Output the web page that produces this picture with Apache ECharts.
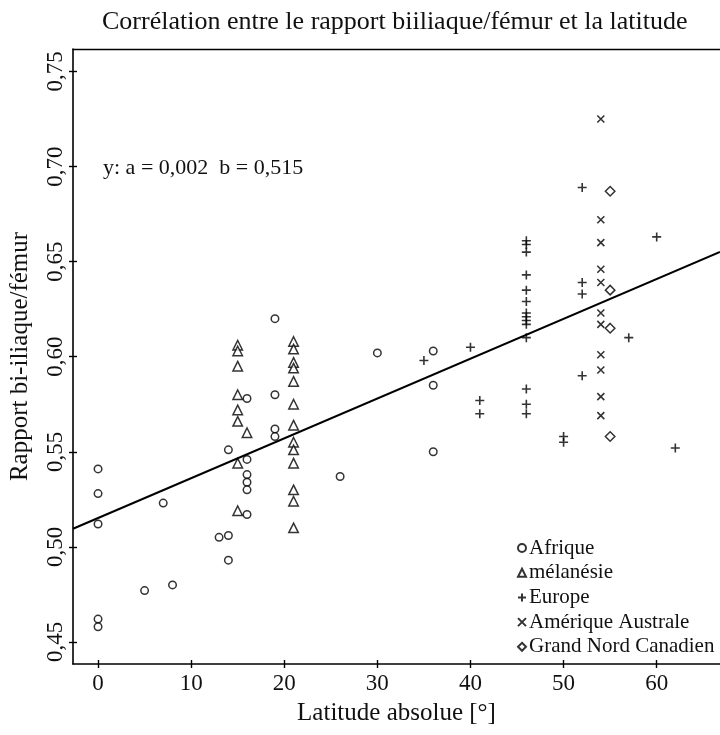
<!DOCTYPE html>
<html>
<head>
<meta charset="utf-8">
<script src="https://cdn.jsdelivr.net/npm/echarts@6/dist/echarts.min.js"></script>
<style>
html,body{margin:0;padding:0;background:#fff;}
#main{width:720px;height:735px;}
</style>
</head>
<body>
<div id="main"></div>
<script>
// tick labels
var xTicks = [0, 10, 20, 30, 40, 50, 60];
var yTicks = [0.45, 0.50, 0.55, 0.60, 0.65, 0.70, 0.75];

// Afrique
var afriqueX = [0, 0, 0, 0, 0, 5, 7, 8, 13, 14, 14, 14, 16, 16, 16, 16, 16, 16, 19, 19, 19, 19, 26, 30, 36, 36, 36];
var afriqueY = [0.541, 0.528, 0.512, 0.462, 0.458, 0.477, 0.523, 0.480, 0.505, 0.506, 0.493, 0.551, 0.578, 0.546, 0.538, 0.534, 0.530, 0.517, 0.620, 0.580, 0.562, 0.558, 0.537, 0.602, 0.603, 0.585, 0.550];

// mélanésie
var melanesieX = [15, 15, 15, 15, 15, 15, 15, 15, 16, 21, 21, 21, 21, 21, 21, 21, 21, 21, 21, 21, 21, 21];
var melanesieY = [0.606, 0.603, 0.595, 0.580, 0.572, 0.566, 0.544, 0.519, 0.560, 0.608, 0.604, 0.597, 0.594, 0.587, 0.575, 0.564, 0.555, 0.551, 0.544, 0.530, 0.524, 0.510];

// Europe
var europeX = [35, 40, 41, 41, 46, 46, 46, 46, 46, 46, 46, 46, 46, 46, 46, 46, 46, 46, 50, 50, 52, 52, 52, 52, 57, 60, 62];
var europeY = [0.598, 0.605, 0.577, 0.570, 0.661, 0.659, 0.655, 0.643, 0.635, 0.629, 0.623, 0.621, 0.619, 0.617, 0.610, 0.583, 0.575, 0.570, 0.558, 0.555, 0.689, 0.639, 0.633, 0.590, 0.610, 0.663, 0.552];

// Amérique Australe
var ameriqueX = [54, 54, 54, 54, 54, 54, 54, 54, 54, 54, 54];
var ameriqueY = [0.725, 0.672, 0.660, 0.646, 0.639, 0.623, 0.617, 0.601, 0.593, 0.579, 0.569];

// Grand Nord Canadien
var canadaX = [55, 55, 55, 55];
var canadaY = [0.687, 0.635, 0.615, 0.558];

// droite de régression (extrémités)
var droiteX = [-2.69, 66.8];
var droiteY = [0.5095, 0.6551];

function pts(xs, ys) {
	var out = [];
	for (var i = 0; i < xs.length; i++) out.push([xs[i], ys[i]]);
	return out;
}

var FONT = '"Liberation Serif", "DejaVu Serif", serif';
var INK = '#000';
var markStyle = {color: '#fff', borderColor: INK, borderWidth: 1.5};
var strokeStyle = {color: 'transparent', borderColor: INK, borderWidth: 1.6};

var xMin = -2.69, xMax = 66.8, yMin = 0.4384, yMax = 0.7618;

var option = {
	animation: false,
	backgroundColor: '#fff',
	textStyle: {fontFamily: FONT, color: INK},
	title: {
		text: 'Corrélation entre le rapport biiliaque/fémur et la latitude',
		left: 97,
		top: 4,
		textStyle: {fontFamily: FONT, fontSize: 26, fontWeight: 'normal', color: '#111'}
	},
	grid: {left: 73, right: 0, top: 49, bottom: 71},
	legend: {
		orient: 'vertical',
		left: 512,
		top: 532,
		itemWidth: 8,
		itemHeight: 8,
		itemGap: 2.7,
		selectedMode: false,
		textStyle: {fontFamily: FONT, fontSize: 21, color: '#111', lineHeight: 22, padding: [0, 0, 0, -2]},
		data: ['Afrique', 'mélanésie', 'Europe', 'Amérique Australe', 'Grand Nord Canadien']
	},
	graphic: [{
		type: 'text',
		left: 103,
		top: 157,
		style: {text: 'y: a = 0,002  b = 0,515', font: '22px ' + FONT, fill: '#111'}
	}],
	xAxis: [{
		type: 'value', min: xMin, max: xMax, position: 'bottom',
		splitLine: {show: false},
		axisLine: {onZero: false, lineStyle: {color: INK, width: 1.6}},
		axisTick: {customValues: xTicks, length: 4, lineStyle: {color: INK, width: 1.4}},
		axisLabel: {customValues: xTicks, fontFamily: FONT, fontSize: 23, color: '#111', margin: 8},
		name: 'Latitude absolue [°]',
		nameLocation: 'middle',
		nameGap: 37,
		nameTextStyle: {fontFamily: FONT, fontSize: 25, color: '#111'}
	}, {
		type: 'value', min: xMin, max: xMax, position: 'bottom',
		splitLine: {show: false},
		axisLine: {show: false, onZero: false},
		axisTick: {customValues: xTicks, inside: true, length: 4, lineStyle: {color: INK, width: 1.4}},
		axisLabel: {show: false}
	}, {
		type: 'value', min: xMin, max: xMax, position: 'top',
		splitLine: {show: false},
		axisLine: {onZero: false, lineStyle: {color: INK, width: 1.3}},
		axisTick: {show: false},
		axisLabel: {show: false}
	}],
	yAxis: [{
		type: 'value', min: yMin, max: yMax, position: 'left',
		splitLine: {show: false},
		axisLine: {onZero: false, lineStyle: {color: INK, width: 1.6}},
		axisTick: {customValues: yTicks, length: 4, lineStyle: {color: INK, width: 1.4}},
		axisLabel: {
			customValues: yTicks, rotate: 90, fontFamily: FONT, fontSize: 23, color: '#111', margin: 6,
			formatter: function (v) { return v.toFixed(2).replace('.', ','); }
		},
		name: 'Rapport bi-iliaque/fémur',
		nameLocation: 'middle',
		nameRotate: 90,
		nameGap: 40,
		nameTextStyle: {fontFamily: FONT, fontSize: 25, color: '#111'}
	}, {
		type: 'value', min: yMin, max: yMax, position: 'left',
		splitLine: {show: false},
		axisLine: {show: false, onZero: false},
		axisTick: {customValues: yTicks, inside: true, length: 4, lineStyle: {color: INK, width: 1.4}},
		axisLabel: {show: false}
	}],
	series: [{
		name: 'droite', type: 'line', data: pts(droiteX, droiteY),
		symbol: 'none', lineStyle: {color: INK, width: 2}, silent: true
	}, {
		name: 'Afrique', type: 'scatter', data: pts(afriqueX, afriqueY),
		symbol: 'circle', symbolSize: 7.5, itemStyle: markStyle
	}, {
		name: 'mélanésie', type: 'scatter', data: pts(melanesieX, melanesieY),
		symbol: 'triangle', symbolSize: 9.5, itemStyle: markStyle
	}, {
		name: 'Europe', type: 'scatter', data: pts(europeX, europeY),
		symbol: 'path://M5,0L5,10M0,5L10,5', symbolSize: 9, itemStyle: strokeStyle
	}, {
		name: 'Amérique Australe', type: 'scatter', data: pts(ameriqueX, ameriqueY),
		symbol: 'path://M0,0L10,10M10,0L0,10', symbolSize: 7, itemStyle: strokeStyle
	}, {
		name: 'Grand Nord Canadien', type: 'scatter', data: pts(canadaX, canadaY),
		symbol: 'diamond', symbolSize: 9.5, itemStyle: markStyle
	}]
};

var myChart = echarts.init(document.getElementById('main'));
myChart.setOption(option);
</script>
</body>
</html>
